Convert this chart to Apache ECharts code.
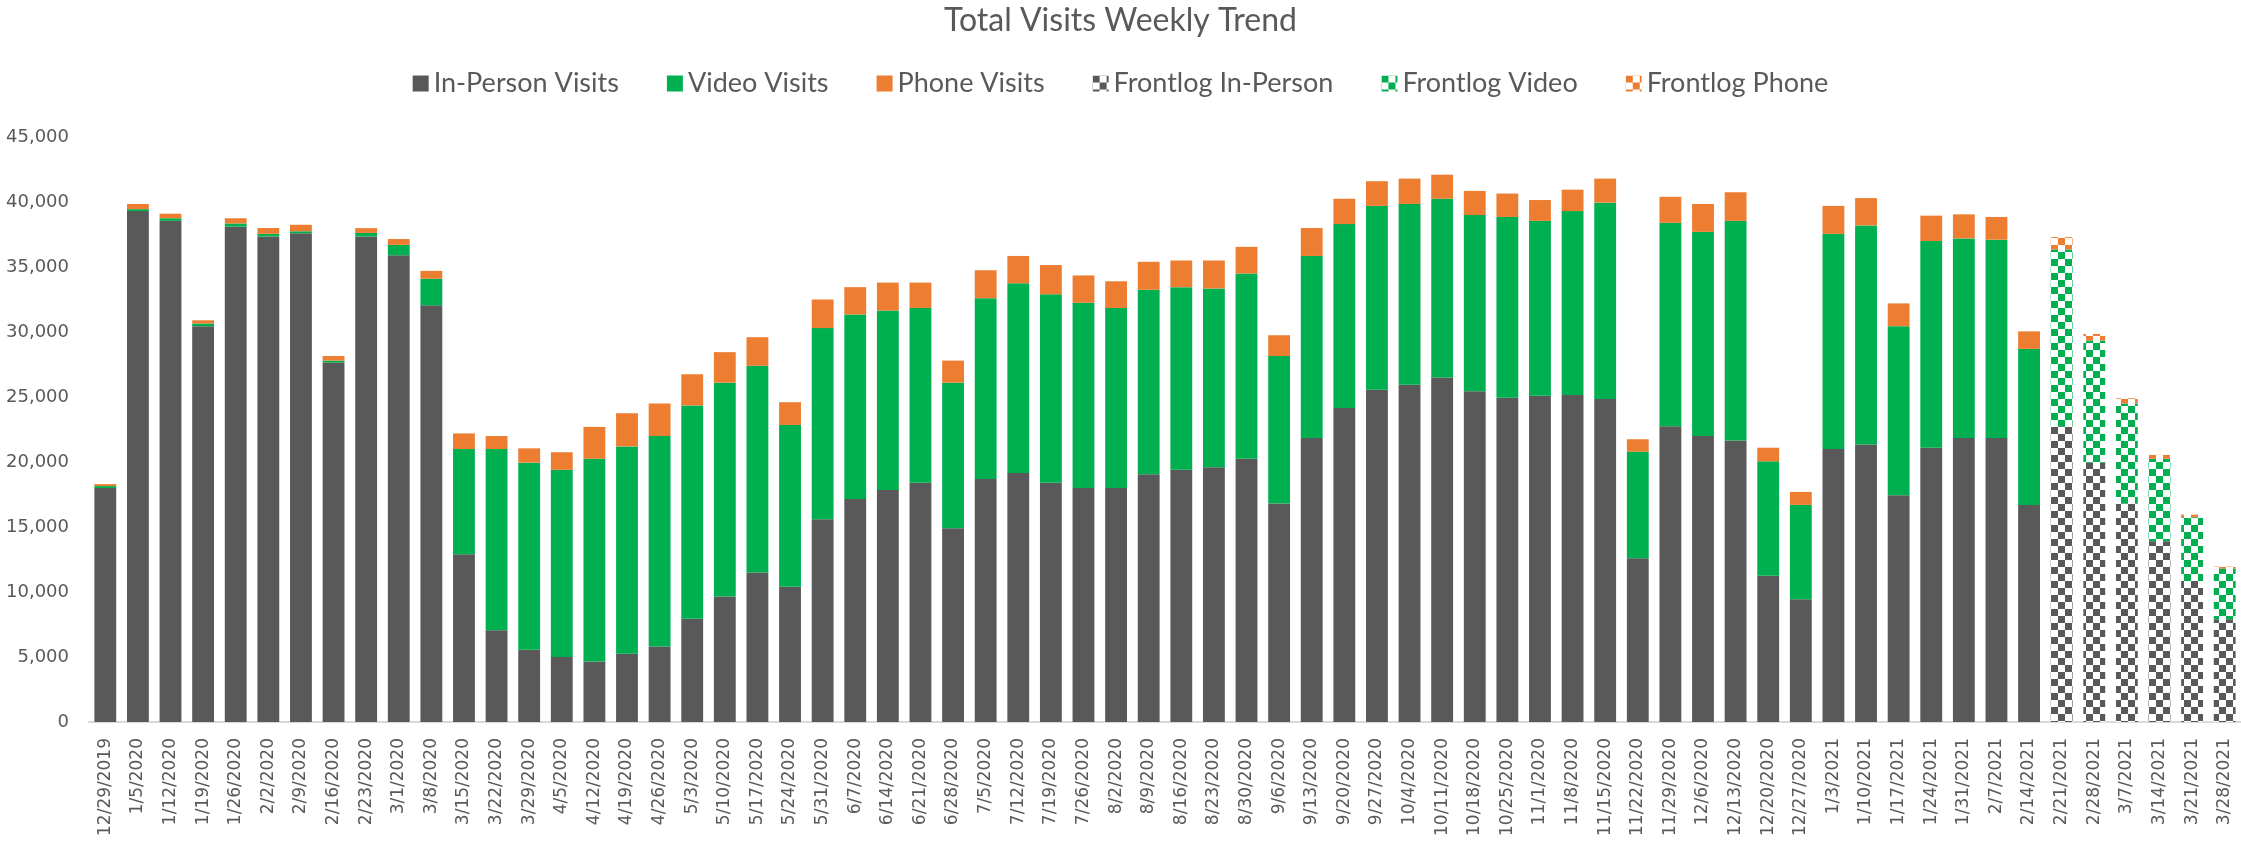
<!DOCTYPE html>
<html>
<head>
<meta charset="utf-8">
<title>Total Visits Weekly Trend</title>
<script src="https://cdn.jsdelivr.net/npm/echarts@6/dist/echarts.min.js"></script>
<style>
  html, body { margin: 0; padding: 0; background: #fff; }
  #chart_main { width: 2241px; height: 852px; }
</style>
</head>
<body>
<div id="chart_main"></div>
<script>
// week start dates (x axis)
const weeks = [
  "12/29/2019", "1/5/2020", "1/12/2020", "1/19/2020", "1/26/2020", "2/2/2020", "2/9/2020", "2/16/2020",
  "2/23/2020", "3/1/2020", "3/8/2020", "3/15/2020", "3/22/2020", "3/29/2020", "4/5/2020", "4/12/2020",
  "4/19/2020", "4/26/2020", "5/3/2020", "5/10/2020", "5/17/2020", "5/24/2020", "5/31/2020", "6/7/2020",
  "6/14/2020", "6/21/2020", "6/28/2020", "7/5/2020", "7/12/2020", "7/19/2020", "7/26/2020", "8/2/2020",
  "8/9/2020", "8/16/2020", "8/23/2020", "8/30/2020", "9/6/2020", "9/13/2020", "9/20/2020", "9/27/2020",
  "10/4/2020", "10/11/2020", "10/18/2020", "10/25/2020", "11/1/2020", "11/8/2020", "11/15/2020", "11/22/2020",
  "11/29/2020", "12/6/2020", "12/13/2020", "12/20/2020", "12/27/2020", "1/3/2021", "1/10/2021", "1/17/2021",
  "1/24/2021", "1/31/2021", "2/7/2021", "2/14/2021", "2/21/2021", "2/28/2021", "3/7/2021", "3/14/2021",
  "3/21/2021", "3/28/2021"
];

// actuals, 12/29/2019 .. 2/14/2021
const inPerson = [
  18000, 39300, 38550, 30450, 38100, 37350, 37600, 27650, 37350, 35900,
  32050, 12900, 7050, 5550, 5000, 4650, 5250, 5800, 7950, 9650,
  11500, 10400, 15600, 17150, 17850, 18400, 14900, 18700, 19150, 18400,
  18000, 18000, 19050, 19400, 19600, 20250, 16800, 21850, 24150, 25550,
  25950, 26500, 25450, 24950, 25100, 25150, 24850, 12600, 22750, 22000,
  21650, 11250, 9450, 21000, 21350, 17450, 21100, 21850, 21850, 16700
];
const video = [
  150, 150, 200, 200, 250, 200, 150, 150, 270, 800,
  2050, 8100, 13950, 14400, 14400, 15600, 15950, 16200, 16400, 16450,
  15900, 12450, 14700, 14200, 13800, 13450, 11200, 13900, 14600, 14500,
  14250, 13850, 14200, 14050, 13750, 14250, 11350, 14000, 14150, 14150,
  13900, 13750, 13550, 13900, 13450, 14150, 15100, 8200, 15650, 15700,
  16900, 8800, 7250, 16550, 16850, 13000, 15900, 15350, 15250, 12000
];
const phone = [
  150, 400, 350, 250, 400, 450, 500, 350, 370, 450,
  600, 1200, 1000, 1100, 1350, 2450, 2550, 2500, 2400, 2350,
  2200, 1750, 2200, 2100, 2150, 1950, 1700, 2150, 2100, 2250,
  2100, 2050, 2150, 2050, 2150, 2050, 1600, 2150, 1950, 1900,
  1950, 1850, 1850, 1800, 1600, 1650, 1850, 950, 2000, 2150,
  2200, 1050, 1000, 2150, 2100, 1750, 1950, 1850, 1750, 1350
];

// frontlog, 2/21/2021 .. 3/28/2021
const frontInPerson = [22750, 19950, 16800, 13900, 10850, 7900];
const frontVideo = [13600, 9400, 7700, 6350, 4900, 3900];
const frontPhone = [950, 500, 400, 300, 200, 150];

const yTicks = { min: 0, max: 45000, interval: 5000 };

const GRAY = "#595959";
const GREEN = "#00B050";
const ORANGE = "#ED7D31";

// checkerboard fill like excel's "large checkerboard" pattern
function checker(color) {
  let c = document.createElement("canvas");
  c.width = 14;
  c.height = 14;
  let ctx = c.getContext("2d");
  ctx.fillStyle = "#ffffff";
  ctx.fillRect(0, 0, 14, 14);
  ctx.fillStyle = color;
  ctx.fillRect(0, 0, 7, 7);
  ctx.fillRect(7, 7, 7, 7);
  return { image: c, repeat: "repeat" };
}

let nActual = inPerson.length;
let padFront = arr => new Array(nActual).fill(null).concat(arr);
let padBack = arr => arr.concat(new Array(weeks.length - nActual).fill(null));

function barSeries(name, data, color) {
  return {
    name: name,
    type: "bar",
    stack: "total",
    barCategoryGap: "33%",
    data: data,
    itemStyle: { color: color },
    emphasis: { disabled: true }
  };
}

let option = {
  animation: false,
  title: {
    text: "Total Visits Weekly Trend",
    left: "center",
    top: 0,
    textStyle: {
      fontFamily: "Lato",
      fontSize: 32,
      fontWeight: "normal",
      color: GRAY
    }
  },
  legend: {
    top: 65,
    left: "center",
    icon: "rect",
    itemWidth: 16,
    itemHeight: 16,
    itemGap: 48,
    textStyle: {
      fontFamily: "Lato",
      fontSize: 27,
      color: GRAY
    }
  },
  grid: {
    left: 89,
    width: 2153,
    top: 137,
    height: 585
  },
  xAxis: {
    type: "category",
    data: weeks,
    axisLine: { lineStyle: { color: "#D9D9D9", width: 2 } },
    axisTick: { show: false },
    axisLabel: {
      interval: 0,
      rotate: 90,
      margin: 16,
      fontFamily: "DejaVu Sans",
      fontSize: 17,
      color: GRAY
    }
  },
  yAxis: {
    type: "value",
    min: yTicks.min,
    max: yTicks.max,
    interval: yTicks.interval,
    splitLine: { show: false },
    axisLine: { show: false },
    axisLabel: {
      margin: 20,
      fontFamily: "DejaVu Sans",
      fontSize: 18,
      color: GRAY,
      formatter: v => v.toLocaleString("en-US")
    }
  },
  series: [
    barSeries("In-Person Visits", padBack(inPerson), GRAY),
    barSeries("Video Visits", padBack(video), GREEN),
    barSeries("Phone Visits", padBack(phone), ORANGE),
    barSeries("Frontlog In-Person", padFront(frontInPerson), checker(GRAY)),
    barSeries("Frontlog Video", padFront(frontVideo), checker(GREEN)),
    barSeries("Frontlog Phone", padFront(frontPhone), checker(ORANGE))
  ]
};

let myChart = echarts.init(document.getElementById("chart_main"));
myChart.setOption(option);
window.addEventListener("resize", function() {
  myChart.resize();
});
</script>
</body>
</html>
